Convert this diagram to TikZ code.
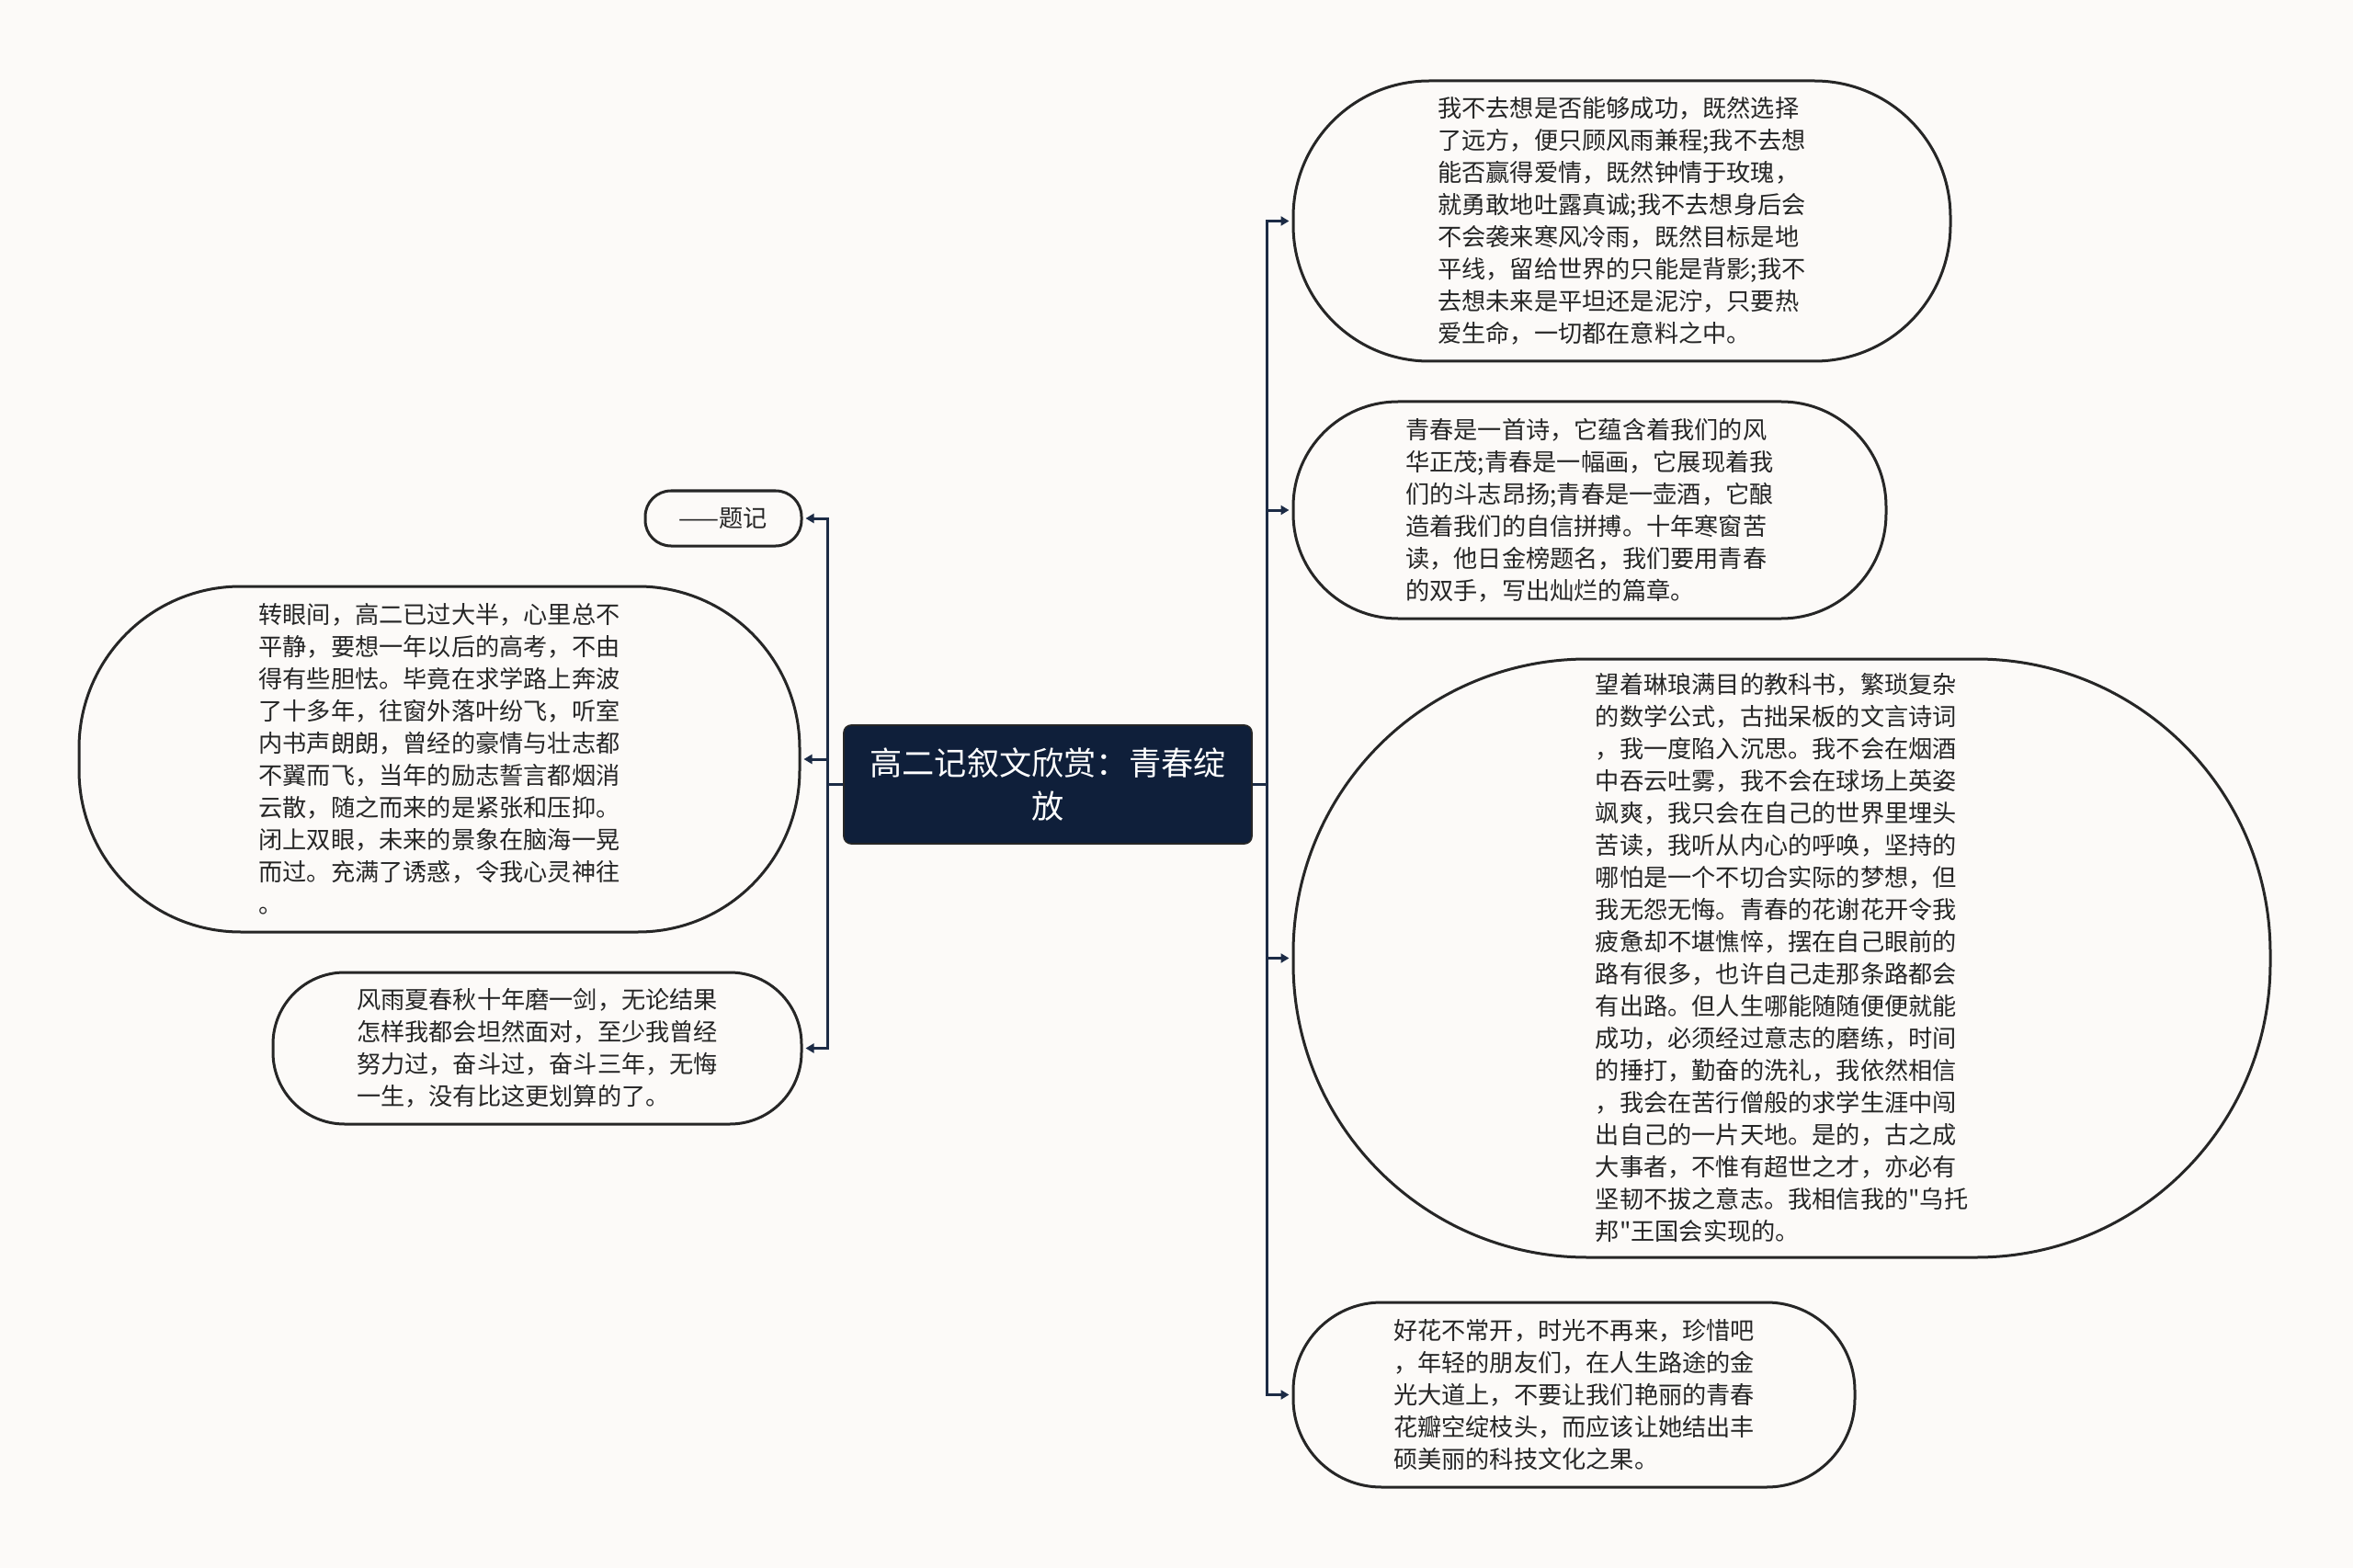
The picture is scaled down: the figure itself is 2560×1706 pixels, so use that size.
\documentclass[tikz,border=0pt]{standalone}
\usepackage{fontspec}
\setmainfont{Noto Sans CJK SC}
\usetikzlibrary{arrows.meta}
\definecolor{paper}{HTML}{FCFAF8}
\definecolor{navy}{HTML}{0F1F3A}
\definecolor{wire}{HTML}{1C2B45}
\definecolor{ink}{HTML}{262626}
\newcommand{\leaffont}{\fontsize{13.1pt}{17.5pt}\selectfont}
\newcommand{\rootfont}{\fontsize{17.6pt}{23.6pt}\selectfont}
\tikzset{root/.style={fill=navy, draw=black!85, line width=0.8pt, rounded corners=4pt,
           text=white, align=center, font=\rootfont, inner sep=0pt},
         bubble/.style={draw=ink, line width=1.5pt, rounded corners=#1,
           align=left, text=ink, font=\leaffont, inner sep=0pt},
         link/.style={draw=wire, line width=1.5pt, -{Triangle[length=4.5pt,width=5pt]}, shorten >=1.5pt},
         }

\begin{document}
\begin{tikzpicture}[x=0.5pt, y=-0.5pt]
\fill[paper] (0,0) rectangle (2560,1706);
\node[root, minimum width=222pt, minimum height=64.5pt] (main) at (1140,853.5)
  {高二记叙文欣赏：青春绽\\放};

\node[bubble=14pt, minimum width=85pt, minimum height=30pt] (tiji) at (787,564) {——题记};
\node[bubble=88pt, minimum width=392pt, minimum height=188pt] (zhuan) at (478,826)
  {转眼间，高二已过大半，心里总不\\
   平静，要想一年以后的高考，不由\\
   得有些胆怯。毕竟在求学路上奔波\\
   了十多年，往窗外落叶纷飞，听室\\
   内书声朗朗，曾经的豪情与壮志都\\
   不翼而飞，当年的励志誓言都烟消\\
   云散，随之而来的是紧张和压抑。\\
   闭上双眼，未来的景象在脑海一晃\\
   而过。充满了诱惑，令我心灵神往\\
   。};
\node[bubble=39pt, minimum width=287.5pt, minimum height=82.5pt] (fengyu) at (584.5,1140.5)
  {风雨夏春秋十年磨一剑，无论结果\\
   怎样我都会坦然面对，至少我曾经\\
   努力过，奋斗过，奋斗三年，无悔\\
   一生，没有比这更划算的了。};

\node[bubble=74pt, minimum width=357.5pt, minimum height=152.5pt] (buqu) at (1764.5,240.5)
  {我不去想是否能够成功，既然选择\\
   了远方，便只顾风雨兼程;我不去想\\
   能否赢得爱情，既然钟情于玫瑰，\\
   就勇敢地吐露真诚;我不去想身后会\\
   不会袭来寒风冷雨，既然目标是地\\
   平线，留给世界的只能是背影;我不\\
   去想未来是平坦还是泥泞，只要热\\
   爱生命，一切都在意料之中。};
\node[bubble=57pt, minimum width=322.5pt, minimum height=118pt] (qingchun) at (1729.5,555)
  {青春是一首诗，它蕴含着我们的风\\
   华正茂;青春是一幅画，它展现着我\\
   们的斗志昂扬;青春是一壶酒，它酿\\
   造着我们的自信拼搏。十年寒窗苦\\
   读，他日金榜题名，我们要用青春\\
   的双手，写出灿烂的篇章。};
\node[bubble=160pt, minimum width=531.5pt, minimum height=325.5pt] (wangzhe) at (1938.5,1042.5)
  {望着琳琅满目的教科书，繁琐复杂\\
   的数学公式，古拙呆板的文言诗词\\
   ，我一度陷入沉思。我不会在烟酒\\
   中吞云吐雾，我不会在球场上英姿\\
   飒爽，我只会在自己的世界里埋头\\
   苦读，我听从内心的呼唤，坚持的\\
   哪怕是一个不切合实际的梦想，但\\
   我无怨无悔。青春的花谢花开令我\\
   疲惫却不堪憔悴，摆在自己眼前的\\
   路有很多，也许自己走那条路都会\\
   有出路。但人生哪能随随便便就能\\
   成功，必须经过意志的磨练，时间\\
   的捶打，勤奋的洗礼，我依然相信\\
   ，我会在苦行僧般的求学生涯中闯\\
   出自己的一片天地。是的，古之成\\
   大事者，不惟有超世之才，亦必有\\
   坚韧不拔之意志。我相信我的\textquotedbl 乌托\\
   邦\textquotedbl 王国会实现的。};
\node[bubble=48pt, minimum width=305.5pt, minimum height=100.5pt] (haohua) at (1712.5,1517.5)
  {好花不常开，时光不再来，珍惜吧\\
   ，年轻的朋友们，在人生路途的金\\
   光大道上，不要让我们艳丽的青春\\
   花瓣空绽枝头，而应该让她结出丰\\
   硕美丽的科技文化之果。};

\draw[link] (main.west) -- ++(-17,0) |- (tiji.east);
\draw[link] (main.west) -- ++(-17,0) |- (zhuan.east);
\draw[link] (main.west) -- ++(-17,0) |- (fengyu.east);
\draw[link] (main.east) -- ++(16,0) |- (buqu.west);
\draw[link] (main.east) -- ++(16,0) |- (qingchun.west);
\draw[link] (main.east) -- ++(16,0) |- (wangzhe.west);
\draw[link] (main.east) -- ++(16,0) |- (haohua.west);
\end{tikzpicture}
\end{document}
